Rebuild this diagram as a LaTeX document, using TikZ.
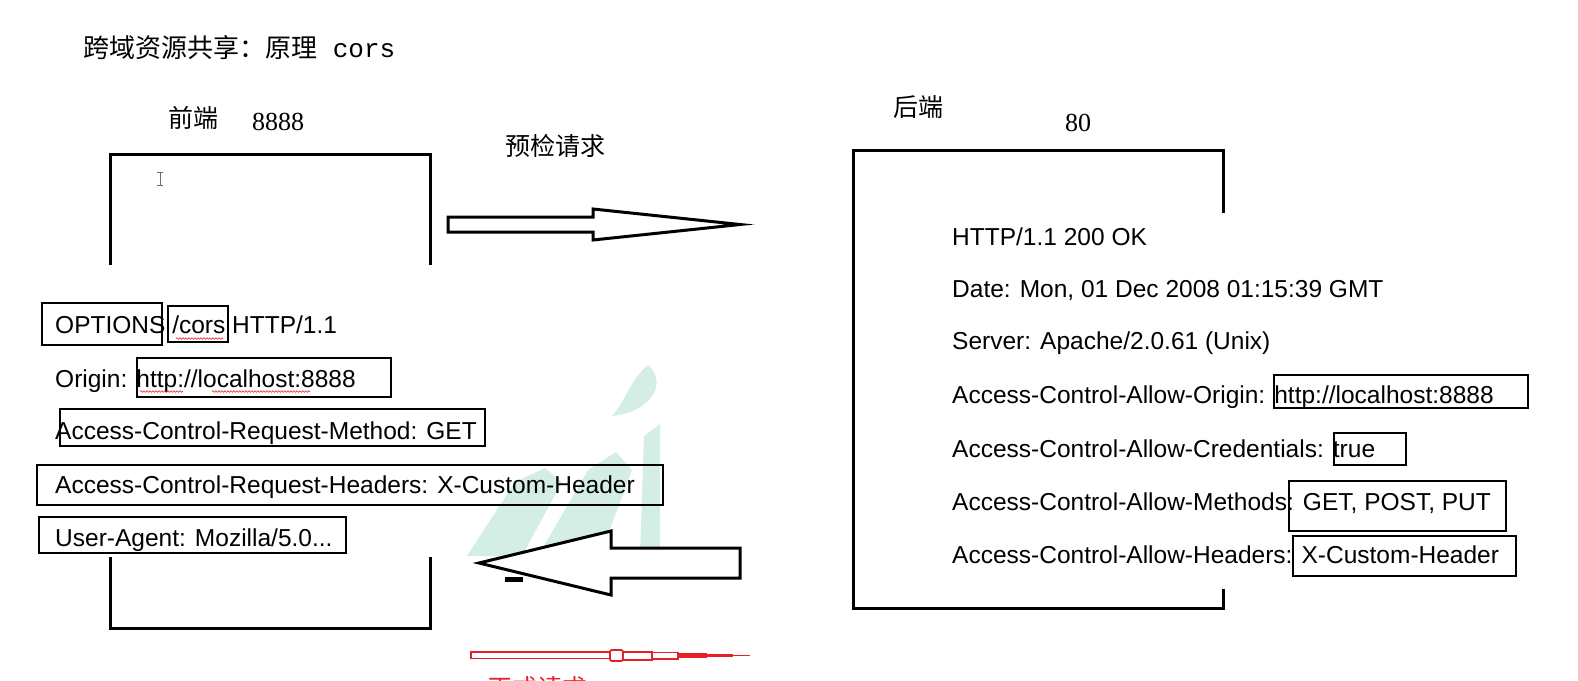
\documentclass[tikz,border=0pt]{standalone}
\usepackage{fontspec}
\setmainfont{Liberation Sans}
\newfontfamily\cjk{Noto Sans CJK SC}
\newfontfamily\numfont{Liberation Serif}
\newfontfamily\codefont{Liberation Mono}
\usepackage{tikz}
\usetikzlibrary{positioning,decorations.pathmorphing}
\usepackage{xcolor}
\definecolor{corsred}{RGB}{230,32,40}
\definecolor{wmteal}{RGB}{212,238,229}
\definecolor{inkgray}{RGB}{110,110,110}
\tikzstyle{endframe} = [line width=3pt, line cap=butt]
\tikzstyle{hlbox} = [rectangle, draw=black, line width=2.7pt, inner sep=0pt]
\tikzstyle{httpline} = [anchor=base west, inner sep=0pt, font=\fontsize{24.5}{28}\selectfont]
\tikzstyle{cnlabel} = [inner sep=0pt, font=\cjk\fontsize{25}{28}\selectfont]
\tikzstyle{portlabel} = [inner sep=0pt, font=\numfont\fontsize{26}{28}\selectfont]
\tikzstyle{blockarrow} = [line width=3pt, line join=miter, draw=black, fill=white]
\tikzstyle{squiggle} = [draw=corsred, line width=0.6pt, decorate, decoration={snake, amplitude=0.8pt, segment length=3pt}]

\begin{document}
\begin{tikzpicture}[x=1pt, y=-1pt]
    \useasboundingbox (0,0) rectangle (1578,680);
    \clip (0,0) rectangle (1578,680);

    % watermark
    \fill[wmteal] (648,365) .. controls (668,382) and (652,412) .. (612,416) .. controls (626,400) and (630,380) .. cycle;
    \fill[wmteal] (644,436) -- (660,424) -- (660,556) -- (640,556) -- cycle;
    \fill[wmteal] (467,556) -- (515,482) -- (545,468) -- (562,482) -- (522,556) -- cycle;
    \fill[wmteal] (538,556) -- (588,470) -- (616,452) -- (632,470) -- (600,556) -- cycle;

    % Title
    \node[anchor=west, inner sep=0pt, font=\cjk\fontsize{26}{30}\selectfont] (title) at (83,48) {跨域资源共享：原理\codefont\ cors};

    % Front end
    \node[cnlabel] (front) at (193,118) {前端};
    \node[portlabel] (frontport) at (278,122) {8888};
    \draw[endframe] (110,265) -- (110,154) -- (430,154) -- (430,265);
    \draw[endframe] (110,557) -- (110,628) -- (430,628) -- (430,557);
    \draw[inkgray, line width=0.8pt] (157,172) -- (163,172) (160,172) -- (160,185) (157,185) -- (163,185);

    % Back end
    \node[cnlabel] (back) at (918,107) {后端};
    \node[portlabel] (backport) at (1078,123) {80};
    \draw[endframe] (1223,213) -- (1223,150) -- (853,150) -- (853,608) -- (1223,608) -- (1223,589);

    % Preflight request
    \node[cnlabel] (preflight) at (555,146) {预检请求};
    \draw[blockarrow] (448,217) -- (593,217) -- (593,209) -- (740,224.5) -- (593,240) -- (593,232) -- (448,232) -- cycle;

    % Request headers
    \node[hlbox, minimum width=120pt, minimum height=42pt] (optbox) at (102,324) {};
    \node[hlbox, minimum width=60pt, minimum height=36pt] (corsbox) at (198,324) {};
    \node[hlbox, minimum width=254pt, minimum height=39pt] (originbox) at (264,377.5) {};
    \node[hlbox, minimum width=425pt, minimum height=37pt] (methodbox) at (272.5,427.5) {};
    \node[hlbox, minimum width=626pt, minimum height=40pt] (headerbox) at (350,485) {};
    \node[hlbox, minimum width=307pt, minimum height=36pt] (agentbox) at (192.5,535) {};
    \node[httpline] (req1) at (55,333) {OPTIONS /cors HTTP/1.1};
    \node[httpline] (req2) at (55,387) {Origin: http://localhost:8888};
    \node[httpline] (req3) at (55,439) {Access-Control-Request-Method: GET};
    \node[httpline] (req4) at (55,493) {Access-Control-Request-Headers: X-Custom-Header};
    \node[httpline] (req5) at (55,546) {User-Agent: Mozilla/5.0...};
    \draw[squiggle] (176,338.5) -- (223,338.5);
    \draw[squiggle] (140,391.5) -- (183,391.5);
    \draw[squiggle] (212,391.5) -- (310,391.5);

    % Response headers
    \node[hlbox, minimum width=254pt, minimum height=33pt] (aorigin) at (1401,391.5) {};
    \node[hlbox, minimum width=72pt, minimum height=32pt] (acred) at (1370,449) {};
    \node[hlbox, minimum width=217pt, minimum height=50pt] (amethods) at (1397.5,506) {};
    \node[hlbox, minimum width=223pt, minimum height=40pt] (aheaders) at (1404.5,556) {};
    \node[httpline] (res1) at (952,245) {HTTP/1.1 200 OK};
    \node[httpline] (res2) at (952,297) {Date: Mon, 01 Dec 2008 01:15:39 GMT};
    \node[httpline] (res3) at (952,349) {Server: Apache/2.0.61 (Unix)};
    \node[httpline] (res4) at (952,403) {Access-Control-Allow-Origin: http://localhost:8888};
    \node[httpline] (res5) at (952,457) {Access-Control-Allow-Credentials: true};
    \node[httpline] (res6) at (952,510) {Access-Control-Allow-Methods: GET, POST, PUT};
    \node[httpline] (res7) at (952,563) {Access-Control-Allow-Headers: X-Custom-Header};

    % Response arrow
    \draw[blockarrow] (740,548) -- (611,548) -- (611,531) -- (479,563) -- (611,595) -- (611,578) -- (740,578) -- cycle;
    \fill (505,577) rectangle (523,582);

    % Actual request
    \draw[corsred, line width=1.8pt] (471,652) rectangle (610,658.5);
    \draw[corsred, line width=1.8pt, rounded corners=2pt] (610,650) rectangle (623,661);
    \draw[corsred, line width=1.8pt] (623,652) rectangle (652,660);
    \draw[corsred, line width=1.8pt] (652,652.5) rectangle (678,659);
    \fill[corsred] (678,653) rectangle (707,657.5);
    \fill[corsred] (707,654) rectangle (733,656.5);
    \draw[corsred, line width=1pt] (733,655.3) -- (750,655.3);
    \node[cnlabel, text=corsred] (actual) at (537,688) {正式请求};
\end{tikzpicture}
\end{document}
